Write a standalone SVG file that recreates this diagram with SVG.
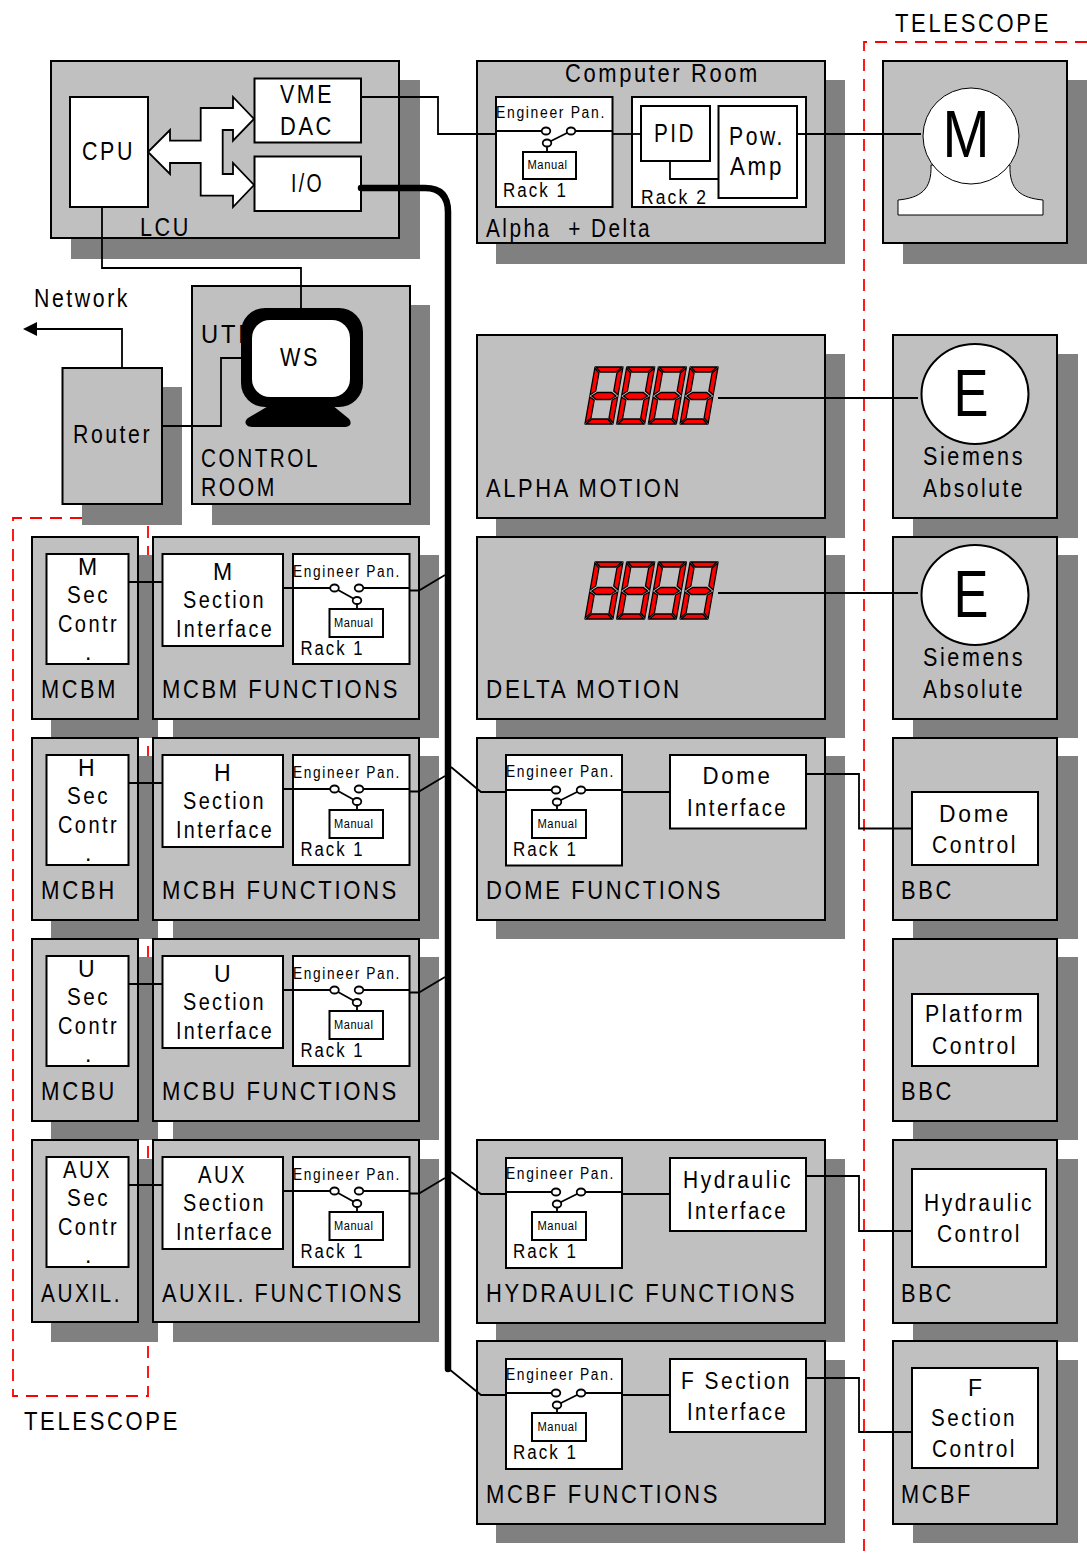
<svg xmlns="http://www.w3.org/2000/svg" xmlns:xlink="http://www.w3.org/1999/xlink" width="1087" height="1555" viewBox="0 0 1087 1555">
<style>
text{font-family:"Liberation Sans",Arial,sans-serif;fill:#000;letter-spacing:.12em}
.l{font-size:25px}.s{font-size:23px}.e{font-size:16px}.r{font-size:20px}.m{font-size:12.5px;letter-spacing:.05em}
.big{font-size:66px;letter-spacing:0}
.n{letter-spacing:0}
.sh{fill:#808080}
.b{fill:#c0c0c0;stroke:#000;stroke-width:2}
.w{fill:#fff;stroke:#000;stroke-width:2}
.c{fill:none;stroke:#000;stroke-width:1.8}
.sw{fill:#fff;stroke:#000;stroke-width:1.8}
.red{fill:none;stroke:#f00;stroke-width:1.8;stroke-dasharray:12 8}
.seg{fill:#f00;stroke:#000;stroke-width:1.3}
</style>
<defs>
<g id="swA"><path class="c" d="M0 35H46M80 35H116M51 47L75 35M51 51V55"/><ellipse class="sw" cx="50" cy="35" rx="4.300" ry="3.500"/><ellipse class="sw" cx="75" cy="35" rx="4.300" ry="3.500"/><ellipse class="sw" cx="51" cy="47" rx="4.300" ry="3.500"/></g>
<g id="swB"><path class="c" d="M0 34H37M70 34H116M41.500 34L64 46.500M64 50V55"/><ellipse class="sw" cx="41.500" cy="34" rx="4.300" ry="3.500"/><ellipse class="sw" cx="66" cy="34" rx="4.300" ry="3.500"/><ellipse class="sw" cx="64" cy="46.500" rx="4.300" ry="3.500"/></g>
<g id="digit" transform="skewX(-10)">
<polygon class="seg" points="1,0 27,0 22,5 6,5"/>
<polygon class="seg" points="1,57 27,57 22,52 6,52"/>
<polygon class="seg" points="0,1 5,6 5,24 0,28"/>
<polygon class="seg" points="28,1 23,6 23,24 28,28"/>
<polygon class="seg" points="0,30 5,33 5,51 0,56"/>
<polygon class="seg" points="28,30 23,33 23,51 28,56"/>
<polygon class="seg" points="2,29 7,25.500 21,25.500 26,29 21,32.500 7,32.500"/>
</g>
<g id="display"><use xlink:href="#digit" href="#digit" x="0"/><use xlink:href="#digit" href="#digit" x="31.700"/><use xlink:href="#digit" href="#digit" x="63.400"/><use xlink:href="#digit" href="#digit" x="95.100"/></g>
</defs>

<path id="telescope-left-boundary" class="red" d="M82 518H13V1396H148V520"/>

<g id="shadows" class="sh">
<rect x="71" y="80" width="349" height="179"/>
<rect x="496" y="80" width="349" height="184"/>
<rect x="903" y="80" width="184" height="184"/>
<rect x="212" y="305" width="218" height="220"/>
<rect x="82" y="387" width="100" height="138"/>
<rect x="496" y="354" width="349" height="184"/>
<rect x="913" y="354" width="165" height="184"/>
<rect x="51" y="555" width="107" height="183"/><rect x="173" y="555" width="266" height="183"/>
<rect x="496" y="555" width="349" height="183"/><rect x="913" y="555" width="165" height="183"/>
<rect x="51" y="756" width="107" height="183"/><rect x="173" y="756" width="266" height="183"/>
<rect x="496" y="756" width="349" height="183"/><rect x="913" y="756" width="165" height="183"/>
<rect x="51" y="957" width="107" height="183"/><rect x="173" y="957" width="266" height="183"/>
<rect x="913" y="957" width="165" height="183"/>
<rect x="51" y="1159" width="107" height="183"/><rect x="173" y="1159" width="266" height="183"/>
<rect x="496" y="1159" width="349" height="183"/><rect x="913" y="1159" width="165" height="183"/>
<rect x="496" y="1360" width="349" height="183"/><rect x="913" y="1360" width="165" height="183"/>
</g>

<g id="lcu">
<rect class="b" x="51" y="61" width="348" height="177"/>
<rect class="w" x="70" y="97" width="78" height="110"/>
<text class="l" x="82" y="160" textLength="53" lengthAdjust="spacingAndGlyphs">CPU</text>
<rect class="w" x="254.500" y="78.500" width="106.500" height="64"/>
<text class="l" x="280" y="103" textLength="54" lengthAdjust="spacingAndGlyphs">VME</text>
<text class="l" x="280" y="135" textLength="54" lengthAdjust="spacingAndGlyphs">DAC</text>
<rect class="w" x="254.500" y="156.500" width="106.500" height="54.500"/>
<text class="l" x="291" y="192" textLength="33" lengthAdjust="spacingAndGlyphs">I/O</text>
<text class="l" x="140" y="236" textLength="51" lengthAdjust="spacingAndGlyphs">LCU</text>
<polygon class="sw" points="148,152 170,130 170,140.700 200.700,140.700 200.700,108 233,108 233,97 254,119 233,140.700 233,130 222.700,130 222.700,174 233,174 233,163 254,185 233,207 233,195.700 200.700,195.700 200.700,163 170,163 170,174"/>
</g>

<g id="computer-room">
<rect class="b" x="477" y="61" width="348" height="182"/>
<text class="l" x="565" y="82" textLength="195" lengthAdjust="spacingAndGlyphs">Computer Room</text>
<text class="l" x="486" y="237" textLength="166" lengthAdjust="spacingAndGlyphs" xml:space="preserve">Alpha  + Delta</text>
<rect class="w" x="496" y="97" width="116.500" height="110"/>
<text class="e" x="496" y="118" textLength="110" lengthAdjust="spacingAndGlyphs">Engineer Pan.</text>
<use href="#swA" xlink:href="#swA" x="496" y="96"/>
<rect class="w" x="523" y="152" width="53" height="27"/>
<text class="m" x="527.500" y="169" textLength="40" lengthAdjust="spacingAndGlyphs">Manual</text>
<text class="r" x="503" y="197" textLength="65" lengthAdjust="spacingAndGlyphs">Rack 1</text>
<rect class="w" x="632" y="97" width="174" height="110"/>
<rect class="w" x="641" y="106" width="69" height="55"/>
<text class="l" x="654" y="142" textLength="42" lengthAdjust="spacingAndGlyphs">PID</text>
<rect class="w" x="718.500" y="106" width="78.500" height="92"/>
<text class="l" x="729" y="145" textLength="56" lengthAdjust="spacingAndGlyphs">Pow.</text>
<text class="l" x="730" y="175" textLength="54" lengthAdjust="spacingAndGlyphs">Amp</text>
<text class="r" x="641" y="204" textLength="67" lengthAdjust="spacingAndGlyphs">Rack 2</text>
</g>

<g id="motor-m">
<rect class="b" x="883" y="61" width="184" height="182"/>
<path d="M898 215V200C920 198 932 190 931 165H1010C1009 190 1021 198 1043 200V215Z" fill="#fff" stroke="#000" stroke-width="1"/>
<ellipse cx="971" cy="136" rx="48" ry="48" fill="#fff" stroke="#000" stroke-width="1"/>
<text class="big" x="966" y="157" text-anchor="middle" textLength="47" lengthAdjust="spacingAndGlyphs">M</text>
</g>

<g id="control-room">
<rect class="b" x="192" y="286" width="218" height="218"/>
<text class="l" x="201" y="343" textLength="56" lengthAdjust="spacingAndGlyphs">UTP</text>
<text class="l" x="201" y="467" textLength="119" lengthAdjust="spacingAndGlyphs">CONTROL</text>
<text class="l" x="201" y="496" textLength="76" lengthAdjust="spacingAndGlyphs">ROOM</text>
<rect x="241" y="308" width="122" height="99" rx="24" fill="#000"/>
<path d="M270 405L248 418C243 422 246 427 252 427H344C352 427 352 421 348 418L332 405Z" fill="#000"/>
<rect x="252" y="320" width="98" height="77" rx="18" fill="#fff"/>
<text class="l" x="280" y="366" textLength="40" lengthAdjust="spacingAndGlyphs">WS</text>
</g>

<g id="router">
<rect class="b" x="62.500" y="368" width="99.500" height="136"/>
<text class="l" x="73" y="443" textLength="79" lengthAdjust="spacingAndGlyphs">Router</text>
</g>

<g id="alpha-motion">
<rect class="b" x="477" y="335" width="348" height="183"/>
<use href="#display" xlink:href="#display" x="595" y="367"/>
<text class="l" x="486" y="497" textLength="196" lengthAdjust="spacingAndGlyphs">ALPHA MOTION</text>
</g>
<g id="encoder-alpha">
<rect class="b" x="893" y="335" width="164" height="183"/>
<ellipse cx="975" cy="394" rx="53.500" ry="50" fill="#fff" stroke="#000" stroke-width="2"/>
<text class="big" x="971" y="416" text-anchor="middle" textLength="35" lengthAdjust="spacingAndGlyphs">E</text>
<text class="l" x="923" y="465" textLength="102" lengthAdjust="spacingAndGlyphs">Siemens</text>
<text class="l" x="923" y="497" textLength="102" lengthAdjust="spacingAndGlyphs">Absolute</text>
</g>

<g id="delta-motion">
<rect class="b" x="477" y="537" width="348" height="182"/>
<use href="#display" xlink:href="#display" x="595" y="562"/>
<text class="l" x="486" y="698" textLength="196" lengthAdjust="spacingAndGlyphs">DELTA MOTION</text>
</g>
<g id="encoder-delta" transform="translate(0,201)">
<rect class="b" x="893" y="336" width="164" height="182"/>
<ellipse cx="975" cy="394" rx="53.500" ry="50" fill="#fff" stroke="#000" stroke-width="2"/>
<text class="big" x="971" y="416" text-anchor="middle" textLength="35" lengthAdjust="spacingAndGlyphs">E</text>
<text class="l" x="923" y="465" textLength="102" lengthAdjust="spacingAndGlyphs">Siemens</text>
<text class="l" x="923" y="497" textLength="102" lengthAdjust="spacingAndGlyphs">Absolute</text>
</g>

<!-- left rows -->
<g id="mcbm">
<rect class="b" x="32" y="537" width="106" height="182"/>
<rect class="w" x="46.500" y="554" width="82" height="110"/>
<text class="s n" x="78" y="575">M</text>
<text class="s" x="67" y="603" textLength="43" lengthAdjust="spacingAndGlyphs">Sec</text>
<text class="s" x="58" y="632" textLength="61" lengthAdjust="spacingAndGlyphs">Contr</text>
<text class="s n" x="85" y="660">.</text>
<text class="l" x="41" y="698" textLength="77" lengthAdjust="spacingAndGlyphs">MCBM</text>
</g>
<g id="mcbm-functions">
<rect class="b" x="153" y="537" width="266" height="182"/>
<rect class="w" x="162.500" y="554" width="120.500" height="92"/>
<text class="s n" x="213" y="580">M</text>
<text class="s" x="183" y="608" textLength="83" lengthAdjust="spacingAndGlyphs">Section</text>
<text class="s" x="176" y="637" textLength="98" lengthAdjust="spacingAndGlyphs">Interface</text>
<rect class="w" x="293" y="554" width="116.500" height="110"/>
<text class="e" x="293" y="577" textLength="108" lengthAdjust="spacingAndGlyphs">Engineer Pan.</text>
<use href="#swB" xlink:href="#swB" x="293" y="554"/>
<rect class="w" x="329.500" y="609" width="53.500" height="28"/>
<text class="m" x="334" y="627" textLength="39.500" lengthAdjust="spacingAndGlyphs">Manual</text>
<text class="r" x="300.500" y="655" textLength="64" lengthAdjust="spacingAndGlyphs">Rack 1</text>
<text class="l" x="162" y="698" textLength="238" lengthAdjust="spacingAndGlyphs">MCBM FUNCTIONS</text>
</g>

<g id="mcbh" transform="translate(0,201)">
<rect class="b" x="32" y="537" width="106" height="182"/>
<rect class="w" x="46.500" y="554" width="82" height="110"/>
<text class="s n" x="78" y="575">H</text>
<text class="s" x="67" y="603" textLength="43" lengthAdjust="spacingAndGlyphs">Sec</text>
<text class="s" x="58" y="632" textLength="61" lengthAdjust="spacingAndGlyphs">Contr</text>
<text class="s n" x="85" y="660">.</text>
<text class="l" x="41" y="698" textLength="76" lengthAdjust="spacingAndGlyphs">MCBH</text>
</g>
<g id="mcbh-functions" transform="translate(0,201)">
<rect class="b" x="153" y="537" width="266" height="182"/>
<rect class="w" x="162.500" y="554" width="120.500" height="92"/>
<text class="s n" x="214" y="580">H</text>
<text class="s" x="183" y="608" textLength="83" lengthAdjust="spacingAndGlyphs">Section</text>
<text class="s" x="176" y="637" textLength="98" lengthAdjust="spacingAndGlyphs">Interface</text>
<rect class="w" x="293" y="554" width="116.500" height="110"/>
<text class="e" x="293" y="577" textLength="108" lengthAdjust="spacingAndGlyphs">Engineer Pan.</text>
<use href="#swB" xlink:href="#swB" x="293" y="554"/>
<rect class="w" x="329.500" y="609" width="53.500" height="28"/>
<text class="m" x="334" y="627" textLength="39.500" lengthAdjust="spacingAndGlyphs">Manual</text>
<text class="r" x="300.500" y="655" textLength="64" lengthAdjust="spacingAndGlyphs">Rack 1</text>
<text class="l" x="162" y="698" textLength="237" lengthAdjust="spacingAndGlyphs">MCBH FUNCTIONS</text>
</g>

<g id="mcbu" transform="translate(0,402)">
<rect class="b" x="32" y="537" width="106" height="182"/>
<rect class="w" x="46.500" y="554" width="82" height="110"/>
<text class="s n" x="78" y="575">U</text>
<text class="s" x="67" y="603" textLength="43" lengthAdjust="spacingAndGlyphs">Sec</text>
<text class="s" x="58" y="632" textLength="61" lengthAdjust="spacingAndGlyphs">Contr</text>
<text class="s n" x="85" y="660">.</text>
<text class="l" x="41" y="698" textLength="76" lengthAdjust="spacingAndGlyphs">MCBU</text>
</g>
<g id="mcbu-functions" transform="translate(0,402)">
<rect class="b" x="153" y="537" width="266" height="182"/>
<rect class="w" x="162.500" y="554" width="120.500" height="92"/>
<text class="s n" x="214" y="580">U</text>
<text class="s" x="183" y="608" textLength="83" lengthAdjust="spacingAndGlyphs">Section</text>
<text class="s" x="176" y="637" textLength="98" lengthAdjust="spacingAndGlyphs">Interface</text>
<rect class="w" x="293" y="554" width="116.500" height="110"/>
<text class="e" x="293" y="577" textLength="108" lengthAdjust="spacingAndGlyphs">Engineer Pan.</text>
<use href="#swB" xlink:href="#swB" x="293" y="554"/>
<rect class="w" x="329.500" y="609" width="53.500" height="28"/>
<text class="m" x="334" y="627" textLength="39.500" lengthAdjust="spacingAndGlyphs">Manual</text>
<text class="r" x="300.500" y="655" textLength="64" lengthAdjust="spacingAndGlyphs">Rack 1</text>
<text class="l" x="162" y="698" textLength="237" lengthAdjust="spacingAndGlyphs">MCBU FUNCTIONS</text>
</g>

<g id="auxil" transform="translate(0,603)">
<rect class="b" x="32" y="537" width="106" height="182"/>
<rect class="w" x="46.500" y="554" width="82" height="110"/>
<text class="s" x="63" y="575" textLength="49" lengthAdjust="spacingAndGlyphs">AUX</text>
<text class="s" x="67" y="603" textLength="43" lengthAdjust="spacingAndGlyphs">Sec</text>
<text class="s" x="58" y="632" textLength="61" lengthAdjust="spacingAndGlyphs">Contr</text>
<text class="s n" x="85" y="660">.</text>
<text class="l" x="41" y="699" textLength="81" lengthAdjust="spacingAndGlyphs">AUXIL.</text>
</g>
<g id="auxil-functions" transform="translate(0,603)">
<rect class="b" x="153" y="537" width="266" height="182"/>
<rect class="w" x="162.500" y="554" width="120.500" height="92"/>
<text class="s" x="198" y="580" textLength="49" lengthAdjust="spacingAndGlyphs">AUX</text>
<text class="s" x="183" y="608" textLength="83" lengthAdjust="spacingAndGlyphs">Section</text>
<text class="s" x="176" y="637" textLength="98" lengthAdjust="spacingAndGlyphs">Interface</text>
<rect class="w" x="293" y="554" width="116.500" height="110"/>
<text class="e" x="293" y="577" textLength="108" lengthAdjust="spacingAndGlyphs">Engineer Pan.</text>
<use href="#swB" xlink:href="#swB" x="293" y="554"/>
<rect class="w" x="329.500" y="609" width="53.500" height="28"/>
<text class="m" x="334" y="627" textLength="39.500" lengthAdjust="spacingAndGlyphs">Manual</text>
<text class="r" x="300.500" y="655" textLength="64" lengthAdjust="spacingAndGlyphs">Rack 1</text>
<text class="l" x="162" y="699" textLength="242" lengthAdjust="spacingAndGlyphs">AUXIL. FUNCTIONS</text>
</g>

<!-- right rows -->
<g id="dome-functions">
<rect class="b" x="477" y="738" width="348" height="182"/>
<rect class="w" x="506" y="755" width="116" height="110.500"/>
<text class="e" x="506" y="777" textLength="109" lengthAdjust="spacingAndGlyphs">Engineer Pan.</text>
<use href="#swA" xlink:href="#swA" x="506" y="755"/>
<rect class="w" x="532" y="810" width="54" height="28"/>
<text class="m" x="537.500" y="828" textLength="40" lengthAdjust="spacingAndGlyphs">Manual</text>
<text class="r" x="513" y="856" textLength="65" lengthAdjust="spacingAndGlyphs">Rack 1</text>
<rect class="w" x="670" y="755" width="136" height="73.500"/>
<text class="s" x="702.500" y="784" textLength="70" lengthAdjust="spacingAndGlyphs">Dome</text>
<text class="s" x="687" y="816" textLength="101" lengthAdjust="spacingAndGlyphs">Interface</text>
<text class="l" x="486" y="899" textLength="237" lengthAdjust="spacingAndGlyphs">DOME FUNCTIONS</text>
</g>
<g id="dome-bbc">
<rect class="b" x="893" y="738" width="164" height="182"/>
<rect class="w" x="912" y="792" width="126" height="73"/>
<text class="s" x="939" y="822" textLength="72" lengthAdjust="spacingAndGlyphs">Dome</text>
<text class="s" x="932" y="853" textLength="86" lengthAdjust="spacingAndGlyphs">Control</text>
<text class="l" x="901" y="899" textLength="53" lengthAdjust="spacingAndGlyphs">BBC</text>
</g>
<g id="platform-bbc">
<rect class="b" x="893" y="939" width="164" height="182"/>
<rect class="w" x="912" y="994" width="126" height="72"/>
<text class="s" x="925" y="1022" textLength="100" lengthAdjust="spacingAndGlyphs">Platform</text>
<text class="s" x="932" y="1054" textLength="86" lengthAdjust="spacingAndGlyphs">Control</text>
<text class="l" x="901" y="1100" textLength="53" lengthAdjust="spacingAndGlyphs">BBC</text>
</g>
<g id="hydraulic-functions">
<rect class="b" x="477" y="1140" width="348" height="183"/>
<rect class="w" x="506" y="1158" width="116" height="110"/>
<text class="e" x="506" y="1179" textLength="109" lengthAdjust="spacingAndGlyphs">Engineer Pan.</text>
<use href="#swA" xlink:href="#swA" x="506" y="1157"/>
<rect class="w" x="532" y="1212" width="54" height="28"/>
<text class="m" x="537.500" y="1230" textLength="40" lengthAdjust="spacingAndGlyphs">Manual</text>
<text class="r" x="513" y="1258" textLength="65" lengthAdjust="spacingAndGlyphs">Rack 1</text>
<rect class="w" x="670" y="1158" width="136" height="73"/>
<text class="s" x="683" y="1188" textLength="110" lengthAdjust="spacingAndGlyphs">Hydraulic</text>
<text class="s" x="687" y="1219" textLength="101" lengthAdjust="spacingAndGlyphs">Interface</text>
<text class="l" x="486" y="1302" textLength="311" lengthAdjust="spacingAndGlyphs">HYDRAULIC FUNCTIONS</text>
</g>
<g id="hydraulic-bbc">
<rect class="b" x="893" y="1140" width="164" height="183"/>
<rect class="w" x="912" y="1169" width="134" height="98"/>
<text class="s" x="924" y="1211" textLength="110" lengthAdjust="spacingAndGlyphs">Hydraulic</text>
<text class="s" x="937" y="1242" textLength="85" lengthAdjust="spacingAndGlyphs">Control</text>
<text class="l" x="901" y="1302" textLength="53" lengthAdjust="spacingAndGlyphs">BBC</text>
</g>
<g id="mcbf-functions">
<rect class="b" x="477" y="1341" width="348" height="183"/>
<rect class="w" x="506" y="1359" width="116" height="110"/>
<text class="e" x="506" y="1380" textLength="109" lengthAdjust="spacingAndGlyphs">Engineer Pan.</text>
<use href="#swA" xlink:href="#swA" x="506" y="1358"/>
<rect class="w" x="532" y="1413" width="54" height="28"/>
<text class="m" x="537.500" y="1431" textLength="40" lengthAdjust="spacingAndGlyphs">Manual</text>
<text class="r" x="513" y="1459" textLength="65" lengthAdjust="spacingAndGlyphs">Rack 1</text>
<rect class="w" x="670" y="1359" width="136" height="73"/>
<text class="s" x="681" y="1389" textLength="111" lengthAdjust="spacingAndGlyphs" xml:space="preserve">F Section</text>
<text class="s" x="687" y="1420" textLength="101" lengthAdjust="spacingAndGlyphs">Interface</text>
<text class="l" x="486" y="1503" textLength="234" lengthAdjust="spacingAndGlyphs">MCBF FUNCTIONS</text>
</g>
<g id="mcbf-control">
<rect class="b" x="893" y="1341" width="164" height="183"/>
<rect class="w" x="912" y="1368" width="126" height="100"/>
<text class="s n" x="968" y="1396">F</text>
<text class="s" x="931" y="1426" textLength="86" lengthAdjust="spacingAndGlyphs">Section</text>
<text class="s" x="932" y="1457" textLength="85" lengthAdjust="spacingAndGlyphs">Control</text>
<text class="l" x="901" y="1503" textLength="72" lengthAdjust="spacingAndGlyphs">MCBF</text>
</g>

<path id="telescope-right-boundary" class="red" d="M1087 42H864V1555"/>
<text id="telescope-top-label" class="l" x="895" y="32" textLength="156" lengthAdjust="spacingAndGlyphs">TELESCOPE</text>
<text id="telescope-left-label" class="l" x="24" y="1430" textLength="156" lengthAdjust="spacingAndGlyphs">TELESCOPE</text>
<text id="network-label" class="l" x="34" y="307" textLength="96" lengthAdjust="spacingAndGlyphs">Network</text>

<g id="connectors">
<path class="c" d="M361 97H438V134H496"/>
<path class="c" d="M612 134H641"/>
<path class="c" d="M670 161V179H718"/>
<path class="c" d="M797 134H921"/>
<path class="c" d="M102 207V268H301V308"/>
<path class="c" d="M122 368V329H36"/>
<polygon points="23,329 37,322 37,336" fill="#000"/>
<path class="c" d="M162 426H221V358H241"/>
<path fill="none" stroke="#000" stroke-width="6.500" stroke-linecap="round" stroke-linejoin="round" d="M361 188H425Q448 188 448 212V1369"/>
<path class="c" d="M718 398H918"/>
<path class="c" d="M718 593H918"/>
<path class="c" d="M128.500 582H162.500M283 588H293M409 590.500H419L445 575"/>
<path class="c" d="M128.500 783H162.500M283 789H293M409 791.500H419L445 776"/>
<path class="c" d="M128.500 984H162.500M283 990H293M409 992.500H419L445 977"/>
<path class="c" d="M128.500 1185H162.500M283 1191H293M409 1193.500H419L445 1178"/>
<path class="c" d="M451 767L481 792H506M622 792H670"/>
<path class="c" d="M806 774H859V828.500H912"/>
<path class="c" d="M451 1172L481 1194H506M622 1194H670"/>
<path class="c" d="M806 1176H859V1231H912"/>
<path class="c" d="M449 1369L481 1395H506M622 1395H670"/>
<path class="c" d="M806 1378H859V1432H912"/>
</g>
</svg>
